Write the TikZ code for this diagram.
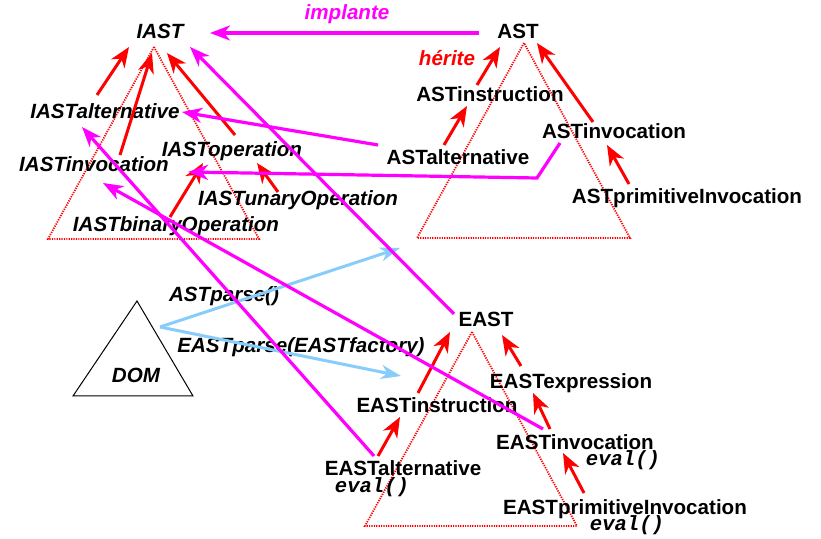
\documentclass[tikz,border=0pt]{standalone}
\usepackage{fontspec}
\newfontfamily\lsans{Liberation Sans}
\newfontfamily\lmono{Liberation Mono}
\usetikzlibrary{arrows.meta}
\definecolor{mag}{RGB}{255,0,255}
\definecolor{inhred}{RGB}{255,0,0}
\definecolor{parseblue}{RGB}{135,204,250}
\begin{document}
\begin{tikzpicture}[x=0.5pt,y=-0.5pt,
  lbl/.style={font=\lsans\bfseries\fontsize{10.3}{12}\selectfont, inner sep=0pt, anchor=base},
  ilbl/.style={font=\lsans\bfseries\itshape\fontsize{10.3}{12}\selectfont, inner sep=0pt, anchor=base},
  code/.style={font=\lmono\bfseries\itshape\fontsize{10.3}{12}\selectfont, inner sep=0pt, anchor=base},
  inh/.style={draw=inhred, line width=1.5pt, -{Stealth[length=10pt,width=8pt,inset=3pt]}},
  impl/.style={draw=mag, line width=1.6pt, -{Stealth[length=10pt,width=7.5pt,inset=3pt]}},
  parse/.style={draw=parseblue, line width=1.5pt, -{Stealth[length=10pt,width=7pt,inset=3pt]}},
  pkg/.style={draw=inhred, line width=0.9pt, dash pattern=on 0.6pt off 0.6pt},
]
\useasboundingbox (0,0) rectangle (821,539);
% package triangles
\draw[pkg] (154,47) -- (48,239) -- (259,239) -- cycle;
\draw[pkg] (524,43) -- (417,238) -- (630,238) -- cycle;
\draw[pkg] (472,332) -- (365,526) -- (577,526) -- cycle;
% DOM triangle
\draw[black, line width=0.5pt] (137,301) -- (73,396) -- (193,396) -- cycle;

% labels
\node[ilbl] (IAST) at (160,39) {IAST};
\node[ilbl, text=mag] (implante) at (347,20) {implante};
\node[ilbl] (IASTalt) at (105,119) {IASTalternative};
\node[ilbl] (IASTop) at (232,157) {IASToperation};
\node[ilbl] (IASTinv) at (94,172) {IASTinvocation};
\node[ilbl] (IASTun) at (298,206) {IASTunaryOperation};
\node[ilbl] (IASTbin) at (176,232) {IASTbinaryOperation};

\node[lbl] (AST) at (518,39) {AST};
\node[ilbl, text=inhred] (herite) at (447,66) {hérite};
\node[lbl] (ASTinstr) at (490,102) {ASTinstruction};
\node[lbl] (ASTinv) at (614,139) {ASTinvocation};
\node[lbl] (ASTalt) at (458,165) {ASTalternative};
\node[lbl] (ASTprim) at (687,204) {ASTprimitiveInvocation};

\node[ilbl] (DOM) at (136,383) {DOM};
\node[ilbl] (ASTparse) at (224,302) {ASTparse()};
\node[ilbl] (EASTparse) at (301,353) {EASTparse(EASTfactory)};

\node[lbl] (EAST) at (486,327) {EAST};
\node[lbl] (EASTexpr) at (571,389) {EASTexpression};
\node[lbl] (EASTinstr) at (437,413) {EASTinstruction};
\node[lbl] (EASTinv) at (575,450) {EASTinvocation};
\node[code] (evalinv) at (623,466) {eval()};
\node[lbl] (EASTalt) at (403,476) {EASTalternative};
\node[code] (evalalt) at (372,493) {eval()};
\node[lbl] (EASTprim) at (625,515) {EASTprimitiveInvocation};
\node[code] (evalprim) at (627,531) {eval()};

% free ends of the parse arrows
\coordinate (astside) at (400,248);
\coordinate (eastside) at (401,376);
\coordinate (domout) at ([shift={(24,-56)}]DOM.base);

% parse arrows
\draw[parse] (domout) -- (astside);
\draw[parse] (domout) -- (eastside);

% inheritance arrows
\draw[inh] ([shift={(-8,-24)}]IASTalt.base) -- ([shift={(-31,8)}]IAST.base);
\draw[inh] ([shift={(26,-17)}]IASTinv.base) -- ([shift={(-8,14)}]IAST.base);
\draw[inh] ([shift={(3,-22)}]IASTop.base) -- ([shift={(7,14)}]IAST.base);
\draw[inh] ([shift={(-6,-15)}]IASTbin.base) -- ([shift={(-29,6)}]IASTop.base);
\draw[inh] ([shift={(-20,-14)}]IASTun.base) -- ([shift={(25,6)}]IASTop.base);
\draw[inh] ([shift={(-13,-17)}]ASTinstr.base) -- ([shift={(-18,8)}]AST.base);
\draw[inh] ([shift={(-14,-20)}]ASTalt.base) -- ([shift={(-23,4)}]ASTinstr.base);
\draw[inh] ([shift={(-21,-17)}]ASTinv.base) -- ([shift={(19,4)}]AST.base);
\draw[inh] ([shift={(-58,-20)}]ASTprim.base) -- ([shift={(-7,6)}]ASTinv.base);
\draw[inh] ([shift={(-19,-20)}]EASTinstr.base) -- ([shift={(-36,5)}]EAST.base);
\draw[inh] ([shift={(-25,-20)}]EASTalt.base) -- ([shift={(-37,4)}]EASTinstr.base);
\draw[inh] ([shift={(-50,-23)}]EASTexpr.base) -- ([shift={(16,8)}]EAST.base);
\draw[inh] ([shift={(-25,-21)}]EASTinv.base) -- ([shift={(-38,4)}]EASTexpr.base);
\draw[inh] ([shift={(-41,-22)}]EASTprim.base) -- ([shift={(-12,3)}]EASTinv.base);

% implementation arrows
\draw[impl] ([shift={(-39,-6)}]AST.base) -- ([shift={(50,-6)}]IAST.base);
\draw[impl] ([shift={(-80,-20)}]ASTalt.base) -- ([shift={(77,-7)}]IASTalt.base);
\draw[impl] ([shift={(-54,4)}]ASTinv.base) -- ([shift={(-77,39)}]ASTinv.base) -- ([shift={(-44,15)}]IASTop.base);
\draw[impl] ([shift={(-32,-13)}]EAST.base) -- ([shift={(30,8)}]IAST.base);
\draw[impl] ([shift={(-29,-20)}]EASTalt.base) -- ([shift={(-23,8)}]IASTalt.base);
\draw[impl] ([shift={(-32,-21)}]EASTinv.base) -- ([shift={(9,11)}]IASTinv.base);
\end{tikzpicture}
\end{document}
